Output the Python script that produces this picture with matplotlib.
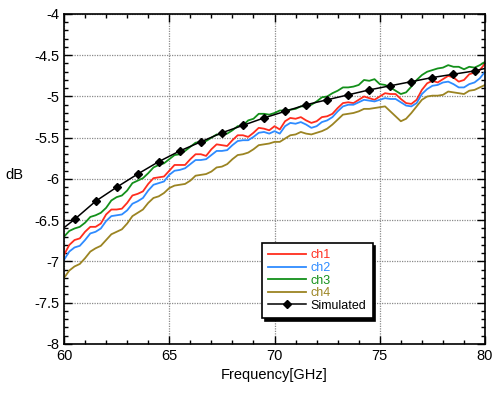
import numpy as np
import matplotlib
matplotlib.use("Agg")
import matplotlib.pyplot as plt
from matplotlib.ticker import MultipleLocator

plt.rcParams['font.family'] = ['Liberation Sans', 'DejaVu Sans']

# frequency grid of the measured traces (GHz), 0.25 GHz steps
freq = np.linspace(60, 80, 81)

ch1 = [-6.92, -6.80, -6.74, -6.72,
       -6.64, -6.58, -6.58, -6.54,
       -6.43, -6.37, -6.37, -6.36,
       -6.29, -6.20, -6.18, -6.15,
       -6.06, -5.99, -5.98, -5.97,
       -5.90, -5.83, -5.83, -5.83,
       -5.76, -5.70, -5.70, -5.72,
       -5.64, -5.58, -5.59, -5.60,
       -5.53, -5.47, -5.47, -5.49,
       -5.44, -5.38, -5.39, -5.41,
       -5.36, -5.40, -5.30, -5.26,
       -5.27, -5.25, -5.29, -5.32,
       -5.30, -5.25, -5.24, -5.21,
       -5.14, -5.08, -5.07, -5.08,
       -5.04, -5.00, -5.02, -5.04,
       -5.00, -4.96, -4.97, -4.97,
       -5.03, -5.08, -5.09, -5.04,
       -4.92, -4.84, -4.81, -4.83,
       -4.79, -4.75, -4.77, -4.82,
       -4.80, -4.73, -4.71, -4.68,
       -4.60]

ch2 = [-6.98, -6.88, -6.83, -6.81,
       -6.74, -6.66, -6.64, -6.60,
       -6.51, -6.45, -6.44, -6.43,
       -6.38, -6.30, -6.27, -6.23,
       -6.14, -6.07, -6.05, -6.03,
       -5.95, -5.90, -5.89, -5.87,
       -5.82, -5.77, -5.77, -5.76,
       -5.71, -5.66, -5.66, -5.65,
       -5.59, -5.54, -5.53, -5.53,
       -5.49, -5.44, -5.43, -5.45,
       -5.42, -5.45, -5.36, -5.32,
       -5.33, -5.31, -5.34, -5.38,
       -5.36, -5.31, -5.29, -5.25,
       -5.18, -5.12, -5.10, -5.10,
       -5.07, -5.04, -5.05, -5.06,
       -5.04, -5.02, -5.03, -5.03,
       -5.07, -5.11, -5.12, -5.08,
       -4.97, -4.91, -4.87, -4.86,
       -4.83, -4.82, -4.85, -4.89,
       -4.89, -4.85, -4.83, -4.78,
       -4.70]

ch3 = [-6.70, -6.63, -6.60, -6.58,
       -6.53, -6.46, -6.44, -6.41,
       -6.35, -6.26, -6.22, -6.20,
       -6.14, -6.05, -6.02, -5.99,
       -5.93, -5.86, -5.83, -5.81,
       -5.76, -5.71, -5.70, -5.66,
       -5.61, -5.56, -5.55, -5.54,
       -5.50, -5.46, -5.46, -5.45,
       -5.41, -5.36, -5.35, -5.29,
       -5.27, -5.21, -5.21, -5.22,
       -5.20, -5.17, -5.17, -5.16,
       -5.15, -5.12, -5.12, -5.10,
       -5.06, -5.01, -5.00, -4.96,
       -4.93, -4.89, -4.89, -4.88,
       -4.86, -4.80, -4.81, -4.79,
       -4.85, -4.86, -4.89, -4.93,
       -4.97, -4.95, -4.88, -4.80,
       -4.74, -4.70, -4.68, -4.66,
       -4.65, -4.62, -4.64, -4.64,
       -4.67, -4.64, -4.65, -4.62,
       -4.58]

ch4 = [-7.20, -7.11, -7.06, -7.03,
       -6.96, -6.88, -6.84, -6.81,
       -6.74, -6.67, -6.64, -6.61,
       -6.54, -6.45, -6.41, -6.37,
       -6.29, -6.23, -6.21, -6.17,
       -6.11, -6.08, -6.07, -6.06,
       -6.02, -5.96, -5.95, -5.94,
       -5.91, -5.86, -5.85, -5.82,
       -5.76, -5.71, -5.70, -5.68,
       -5.64, -5.59, -5.58, -5.57,
       -5.55, -5.55, -5.51, -5.47,
       -5.46, -5.43, -5.45, -5.46,
       -5.44, -5.42, -5.39, -5.34,
       -5.28, -5.22, -5.21, -5.20,
       -5.18, -5.15, -5.15, -5.14,
       -5.13, -5.12, -5.18, -5.24,
       -5.30, -5.27, -5.20, -5.12,
       -5.04, -5.00, -4.99, -4.99,
       -4.98, -4.94, -4.95, -4.96,
       -4.97, -4.93, -4.92, -4.89,
       -4.86]

sim_freq = [60.0, 60.5, 61.5, 62.5, 63.5, 64.5, 65.5, 66.5, 67.5, 68.5, 69.5,
            70.5, 71.5, 72.5, 73.5, 74.5, 75.5, 76.5, 77.5, 78.5, 79.5, 80.0]
sim = [-6.59, -6.49, -6.27, -6.10, -5.94, -5.79, -5.66, -5.55, -5.44, -5.35, -5.26,
       -5.18, -5.10, -5.04, -4.98, -4.92, -4.87, -4.82, -4.77, -4.73, -4.69, -4.66]

labels = ['ch1', 'ch2', 'ch3', 'ch4', 'Simulated']
colors = ['#ff2d1e', '#2e8bff', '#13901a', '#9b8422', '#000000']

fig = plt.figure(figsize=(4.98, 3.93), dpi=100)
ax = fig.add_axes([0.1285, 0.1247, 0.8455, 0.8397])

for y, lab, c in zip([ch1, ch2, ch3, ch4], labels[:4], colors[:4]):
    ax.plot(freq, y, color=c, lw=1.3, label=lab)
ax.plot(sim_freq, sim, color='k', lw=1.1, marker='D', markersize=4.2,
        markevery=slice(1, len(sim_freq) - 1), label=labels[4])

ax.set_xlim(60, 80)
ax.set_ylim(-8, -4)
ax.xaxis.set_major_locator(MultipleLocator(5))
ax.xaxis.set_minor_locator(MultipleLocator(1))
ax.yaxis.set_major_locator(MultipleLocator(0.5))
ax.yaxis.set_minor_locator(MultipleLocator(0.1))
ax.tick_params(which='both', direction='in', top=True, right=True, labelsize=10.5)
ax.tick_params(which='major', length=6, width=1)
ax.tick_params(which='minor', length=3, width=1)
ax.yaxis.set_major_formatter(matplotlib.ticker.FuncFormatter(lambda v, p: ('%g' % v)))
ax.grid(True, which='major', color='#8a8a8a', linestyle=(0, (1, 1)), lw=0.9)
for s in ax.spines.values():
    s.set_linewidth(1.2)

ax.set_xlabel('Frequency[GHz]', fontsize=10.5, labelpad=4)
ax.set_ylabel('dB', fontsize=10.5, rotation=0)
ax.yaxis.set_label_coords(-0.119, 0.49)

leg = ax.legend(loc='upper left', bbox_to_anchor=(0.47, 0.306), borderaxespad=0,
                fontsize=9, labelspacing=0.05, handlelength=3.0, handletextpad=0.4,
                fancybox=False, edgecolor='k', framealpha=1,
                shadow={'color': 'k', 'alpha': 1.0}, borderpad=0.5)
leg.get_frame().set_linewidth(1.2)
for t, c in zip(leg.get_texts(), colors):
    t.set_color(c)

fig.savefig('out.png', dpi=100)
